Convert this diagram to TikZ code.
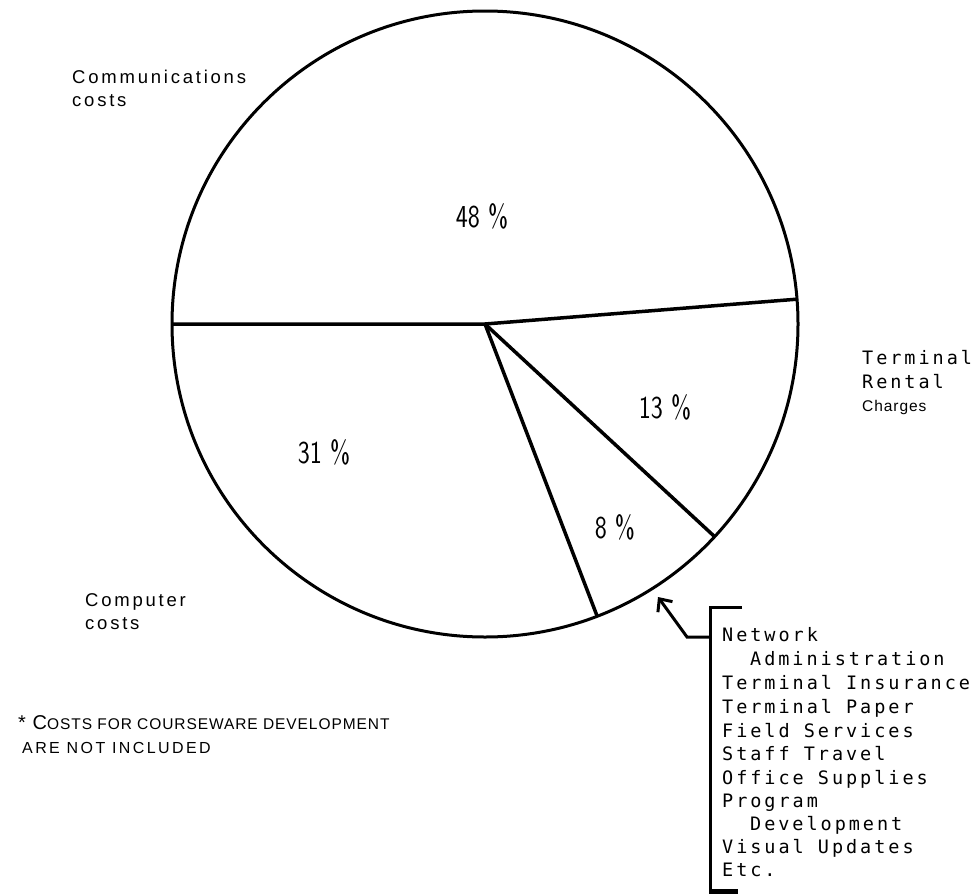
\documentclass[tikz,border=0pt]{standalone}
\usepackage{fontspec}
\usepackage{graphicx}
\usepackage{tikz}
\usetikzlibrary{arrows.meta}
\setmainfont{Liberation Sans}
\newfontfamily\listfont[LetterSpace=16]{DejaVu Sans Mono}
\newfontfamily\labelfont[LetterSpace=15]{Liberation Sans}
\newfontfamily\smallfont[LetterSpace=6]{Liberation Sans}
\newcommand{\pctext}[1]{\scalebox{0.8}[1]{#1}}

\tikzset{
  pct/.style={inner sep=0pt, font=\sffamily\fontsize{32}{32}\selectfont},
  lbl/.style={inner sep=0pt, anchor=base west, font=\labelfont\fontsize{18.5}{22}\selectfont},
  slbl/.style={inner sep=0pt, anchor=base west, font=\smallfont\fontsize{15.5}{18}\selectfont},
  item/.style={inner sep=0pt, anchor=base west, font=\listfont\fontsize{18.5}{22}\selectfont},
  note/.style={inner sep=0pt, anchor=base west, font=\smallfont\fontsize{20}{24}\selectfont},
  rim/.style={line width=3pt},
  cut/.style={line width=3.5pt},
}

\begin{document}
\begin{tikzpicture}[x=1pt,y=-1pt]
    \useasboundingbox (0,0) rectangle (974,894);

    % the pie and its cuts
    \coordinate (c) at (485,324);
    \draw[rim] (c) circle[radius=313pt];
    \coordinate (rl) at ([shift={(180:313pt)}]c);
    \coordinate (rr) at ([shift={(4.55:313pt)}]c);
    \coordinate (rt) at ([shift={(-42.8:313pt)}]c);
    \coordinate (rb) at ([shift={(-69:313pt)}]c);
    \draw[cut] (rl) -- (c) -- (rr);
    \draw[cut] (c) -- (rt);
    \draw[cut] (c) -- (rb);

    \node[pct] (p48) at (482,216) {\pctext{48 \%}};
    \node[pct] (p13) at (665,407) {\pctext{13 \%}};
    \node[pct] (p31) at (324,452) {\pctext{31 \%}};
    \node[pct] (p8) at (615,527) {\pctext{8 \%}};

    % slice labels
    \node[lbl] (comm) at (72,83) {Communications};
    \node[lbl] (comm2) at (72,106) {costs};
    \node[item] (term) at (862,364) {Terminal};
    \node[item] (term2) at (862,388) {Rental};
    \node[slbl] (term3) at (862,411) {Charges};
    \node[lbl] (comp) at (85,606) {Computer};
    \node[lbl] (comp2) at (85,629) {costs};

    % footnote
    \node[note] (foot) at (18,729) {* C{\fontsize{15.5}{16}\selectfont OSTS FOR COURSEWARE DEVELOPMENT}};
    \node[lbl, font=\labelfont\fontsize{16}{18}\selectfont] (foot2) at (22,753) {ARE NOT INCLUDED};

    % bracket with the list of other costs
    \coordinate (bt) at (710,607);
    \coordinate (bj) at (710,637);
    \coordinate (bk) at (687,637);
    \coordinate (tip) at (658,597);
    \draw[rim] (742,607) -- (bt) -- (710,894);
    \draw[rim, -{Straight Barb[length=10pt,width=18pt]}] (bj) -- (bk) -- (tip);
    \draw[line width=5pt] (710,891) -- (738,891);

    \node[item] (l1) at (722,641) {Network};
    \node[item] (l2) at (750,665) {Administration};
    \node[item] (l3) at (722,689) {Terminal Insurance};
    \node[item] (l4) at (722,713) {Terminal Paper};
    \node[item] (l5) at (722,737) {Field Services};
    \node[item] (l6) at (722,760) {Staff Travel};
    \node[item] (l7) at (722,784) {Office Supplies};
    \node[item] (l8) at (722,807) {Program};
    \node[item] (l9) at (750,830) {Development};
    \node[item] (l10) at (722,853) {Visual Updates};
    \node[item] (l11) at (722,876) {Etc.};
\end{tikzpicture}
\end{document}
